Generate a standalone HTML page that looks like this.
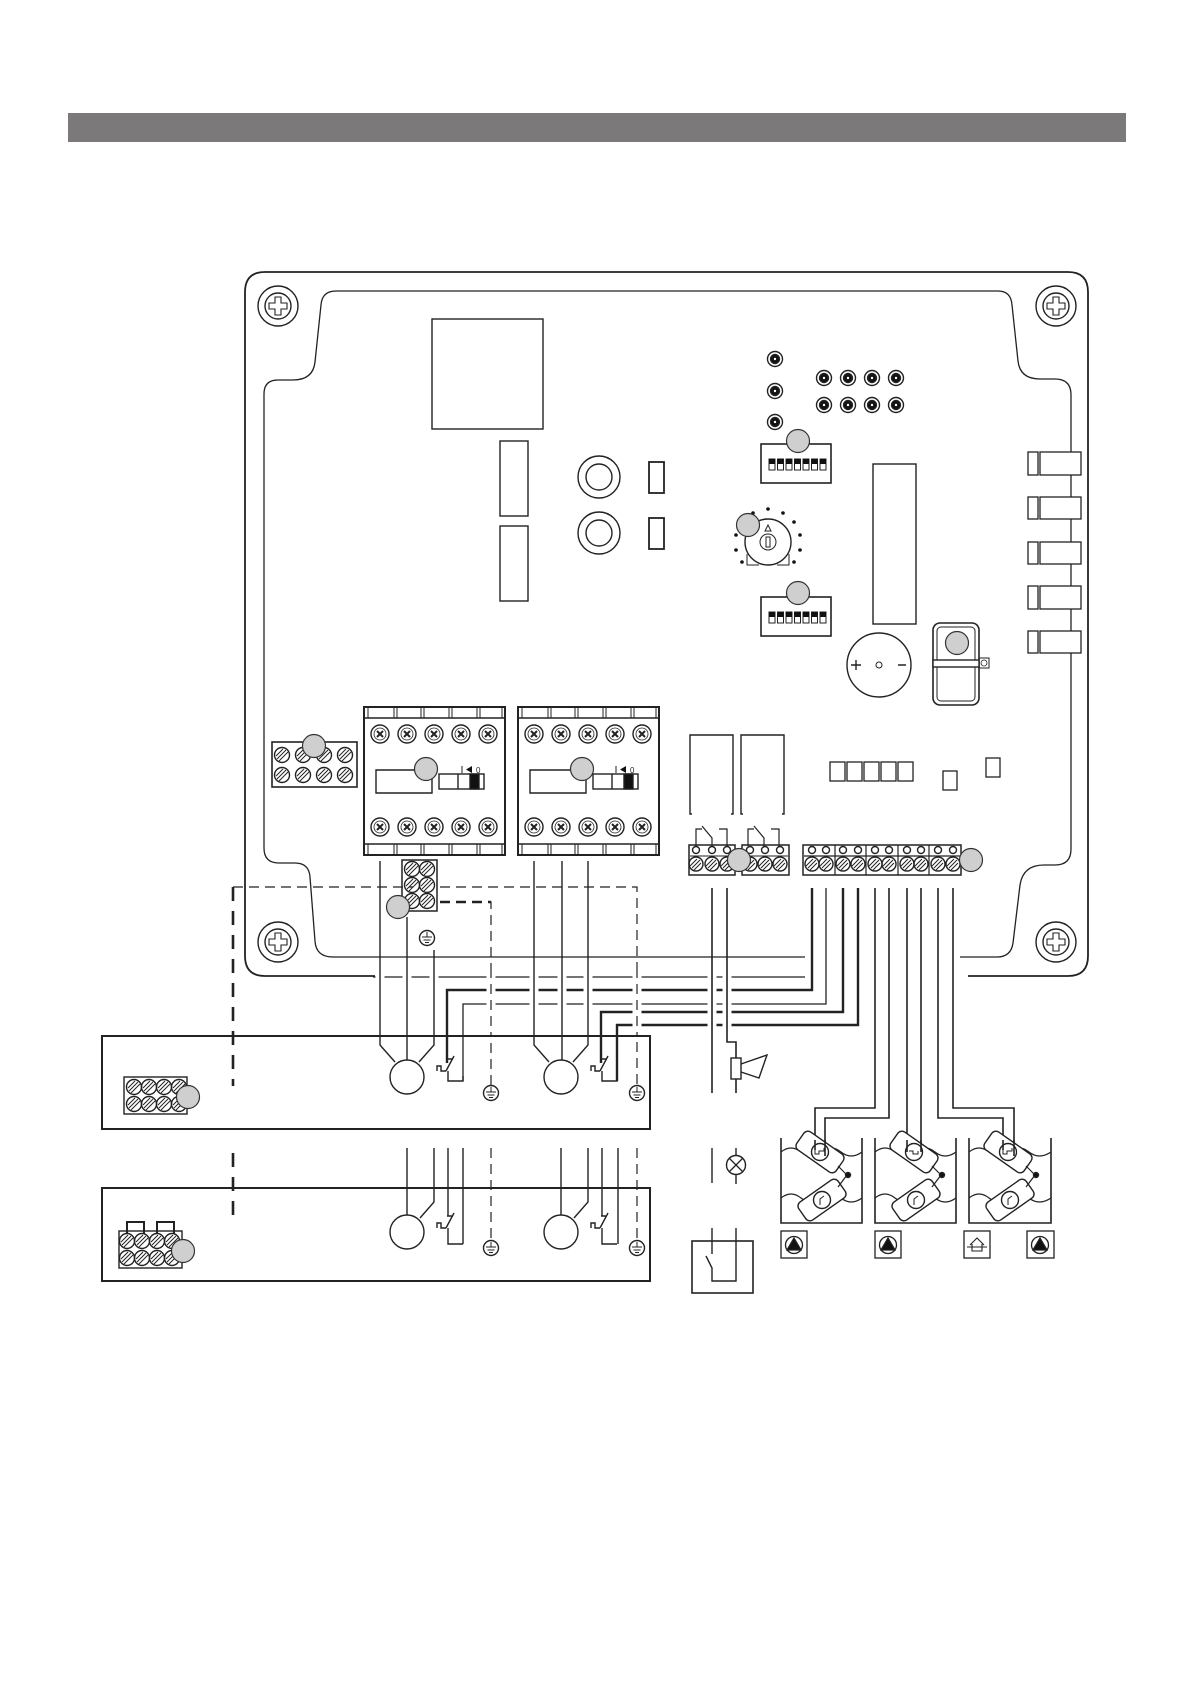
<!DOCTYPE html>
<html><head><meta charset="utf-8"><style>html,body{margin:0;padding:0;background:#fff}svg{display:block}</style></head>
<body>
<svg width="1192" height="1685" viewBox="0 0 1192 1685" xmlns="http://www.w3.org/2000/svg" fill="none" stroke="#222" stroke-width="1.4" font-family="Liberation Sans, sans-serif">
<defs>
<g id="scr"><circle r="20"/><circle r="13"/><path d="M-3,-9h6v6h6v6h-6v6h-6v-6h-6v-6h6z" stroke-width="1.1"/></g>
<g id="xs"><circle r="9"/><circle r="6" stroke-width="0.8"/><path d="M-3,-3l6,6M3,-3l-6,6" stroke-width="2"/></g>
<g id="hs"><circle r="7.5"/><path d="M-5,4l9,-9M-3,6l9,-9M-6,1l7,-7" stroke-width="1"/></g>
<g id="ts"><circle r="7"/><path d="M-4,4l8,-8M-6,2l7,-7M-2,6l7,-7" stroke-width="1"/><circle cy="-14" r="3.5"/></g>
<g id="led"><circle r="7.5"/><circle r="4.5" fill="#111"/><circle r="1.2" fill="#fff" stroke="none"/></g>
<g id="gc"><circle r="11.5" fill="#cfcfcf" stroke="#333" stroke-width="1.2"/></g>
<g id="earth"><circle r="7.5"/><path d="M0,-6v5M-5,-1h10M-3.5,2h7M-2,4.5h4" stroke-width="1"/></g>
<g id="dip"><rect x="0" y="0" width="70" height="39" stroke-width="1.6"/>
<g stroke-width="1"><rect x="8" y="15" width="6" height="11"/><rect x="16.5" y="15" width="6" height="11"/><rect x="25" y="15" width="6" height="11"/><rect x="33.5" y="15" width="6" height="11"/><rect x="42" y="15" width="6" height="11"/><rect x="50.5" y="15" width="6" height="11"/><rect x="59" y="15" width="6" height="11"/></g>
<g fill="#111" stroke="none"><rect x="8" y="15" width="6" height="5"/><rect x="16.5" y="15" width="6" height="5"/><rect x="25" y="15" width="6" height="5"/><rect x="33.5" y="15" width="6" height="5"/><rect x="42" y="15" width="6" height="5"/><rect x="50.5" y="15" width="6" height="5"/><rect x="59" y="15" width="6" height="5"/></g></g>
<g id="cont">
<rect x="0" y="0" width="141" height="148" stroke-width="2"/>
<path d="M0,11h141M0,137h141" stroke-width="1.6"/>
<path d="M4,0v11M30,0v11M33,0v11M57,0v11M60,0v11M85,0v11M88,0v11M113,0v11M116,0v11M138,0v11M4,137v11M30,137v11M33,137v11M57,137v11M60,137v11M85,137v11M88,137v11M113,137v11M116,137v11M138,137v11" stroke-width="1"/>
<use href="#xs" x="16" y="27"/><use href="#xs" x="43" y="27"/><use href="#xs" x="70" y="27"/><use href="#xs" x="97" y="27"/><use href="#xs" x="124" y="27"/>
<use href="#xs" x="16" y="120"/><use href="#xs" x="43" y="120"/><use href="#xs" x="70" y="120"/><use href="#xs" x="97" y="120"/><use href="#xs" x="124" y="120"/>
<path d="M12,63h56v23h-56z"/>
<rect x="75" y="67" width="45" height="15"/><path d="M94,67v15"/><rect x="106" y="67" width="9" height="15" fill="#111"/>
<path d="M98,59v7" stroke-width="1"/><path d="M102,62.5l6,-3.5v7z" fill="#111" stroke="none"/>
<text x="112" y="66" font-size="8" fill="#222" stroke="none">0</text>
</g>
</defs>

<rect x="68" y="113" width="1058" height="29" fill="#7b7979" stroke="none"/>

<path d="M264,272H1068q20,0 20,20V956q0,20 -20,20H968M375,976H265q-20,0 -20,-20V292q0,-20 20,-20" stroke-width="1.8"/>
<use href="#scr" x="278" y="306"/><use href="#scr" x="1056" y="306"/><use href="#scr" x="278" y="942"/><use href="#scr" x="1056" y="942"/>

<path d="M998,291H336q-14,0 -15,14L315,362q-2,18 -22,18H278q-14,0 -14,14V848q0,15 15,15H295q14,0 15,14L315,941q1,16 18,16H805M960,957H997q14,0 16,-14L1020,885q3,-20 24,-20H1055q16,0 16,-16V395q0,-16 -16,-16H1040q-20,0 -22,-18L1012,305q-1,-14 -14,-14" stroke-width="1.3"/>

<g stroke-width="1.3" fill="#fff">
<rect x="1028" y="452" width="10" height="23"/><rect x="1040" y="452" width="41" height="23"/>
<rect x="1028" y="497" width="10" height="22"/><rect x="1040" y="497" width="41" height="22"/>
<rect x="1028" y="542" width="10" height="22"/><rect x="1040" y="542" width="41" height="22"/>
<rect x="1028" y="586" width="10" height="23"/><rect x="1040" y="586" width="41" height="23"/>
<rect x="1028" y="631" width="10" height="22"/><rect x="1040" y="631" width="41" height="22"/>
</g>

<rect x="432" y="319" width="111" height="110"/>
<rect x="500" y="441" width="28" height="75"/><rect x="500" y="526" width="28" height="75"/>
<circle cx="599" cy="477" r="21"/><circle cx="599" cy="477" r="13"/>
<circle cx="599" cy="533" r="21"/><circle cx="599" cy="533" r="13"/>
<rect x="649" y="462" width="15" height="31" stroke-width="1.8"/><rect x="649" y="518" width="15" height="31" stroke-width="1.8"/>
<use href="#led" x="775" y="359"/><use href="#led" x="775" y="391"/><use href="#led" x="775" y="422"/>
<use href="#led" x="824" y="378"/><use href="#led" x="848" y="378"/><use href="#led" x="872" y="378"/><use href="#led" x="896" y="378"/>
<use href="#led" x="824" y="405"/><use href="#led" x="848" y="405"/><use href="#led" x="872" y="405"/><use href="#led" x="896" y="405"/>
<use href="#dip" x="761" y="444"/><use href="#gc" x="798" y="441"/>
<circle cx="768" cy="542" r="23"/><circle cx="768" cy="542" r="8" stroke-width="1"/><rect x="766" y="537" width="4" height="10" stroke-width="1"/>
<path d="M765,531l3,-6l3,6z" stroke-width="1"/>
<path d="M747,554v11h12M777,565h12v-11" stroke-width="1"/>
<g fill="#111" stroke="none"><circle cx="768" cy="509" r="1.8"/><circle cx="783" cy="513" r="1.8"/><circle cx="794" cy="522" r="1.8"/><circle cx="800" cy="535" r="1.8"/><circle cx="800" cy="550" r="1.8"/><circle cx="794" cy="562" r="1.8"/><circle cx="736" cy="535" r="1.8"/><circle cx="736" cy="550" r="1.8"/><circle cx="742" cy="562" r="1.8"/><circle cx="753" cy="513" r="1.8"/></g>
<use href="#gc" x="748" y="525"/>
<use href="#dip" x="761" y="597"/><use href="#gc" x="798" y="593"/>
<rect x="873" y="464" width="43" height="160"/>
<circle cx="879" cy="665" r="32"/><path d="M851,665h10M856,660v10M898,665h8"/><circle cx="879" cy="665" r="3" stroke-width="1"/>
<rect x="933" y="623" width="46" height="82" rx="7" stroke-width="1.6"/><rect x="937" y="627" width="38" height="74" rx="4" stroke-width="1"/>
<rect x="933" y="660" width="46" height="7" fill="#fff"/><use href="#gc" x="957" y="643"/>
<rect x="979" y="658" width="10" height="10" stroke-width="1"/><circle cx="984" cy="663" r="3" stroke-width="0.8"/>

<rect x="272" y="742" width="85" height="45" stroke-width="1.6"/>
<use href="#hs" x="282" y="755"/><use href="#hs" x="303" y="755"/><use href="#hs" x="324" y="755"/><use href="#hs" x="345" y="755"/>
<use href="#hs" x="282" y="775"/><use href="#hs" x="303" y="775"/><use href="#hs" x="324" y="775"/><use href="#hs" x="345" y="775"/>
<use href="#gc" x="314" y="746"/>

<use href="#cont" x="364" y="707"/><use href="#gc" x="426" y="769"/>
<use href="#cont" x="518" y="707"/><use href="#gc" x="582" y="769"/>

<path d="M692,814h-2V735h43v79h-2M743,814h-2V735h43v79h-2" stroke-width="1.4"/>
<path d="M696,846V829h6M702,826l10,12v8M719,829h8v17M748,846V829h6M754,826l10,12v8M771,829h8v17" stroke-width="1.2"/>
<rect x="689" y="845" width="46" height="30" stroke-width="1.5"/><rect x="742" y="845" width="47" height="30" stroke-width="1.5"/>
<path d="M690,856h44M743,856h45" stroke-width="1"/>
<use href="#ts" x="696" y="864"/><use href="#ts" x="712" y="864"/><use href="#ts" x="727" y="864"/>
<use href="#ts" x="750" y="864"/><use href="#ts" x="765" y="864"/><use href="#ts" x="780" y="864"/>
<use href="#gc" x="739" y="860"/>

<rect x="803" y="845" width="158" height="30" stroke-width="1.5"/>
<path d="M835,845v30M866,845v30M898,845v30M929,845v30M804,856h156" stroke-width="1.2"/>
<use href="#ts" x="812" y="864"/><use href="#ts" x="826" y="864"/><use href="#ts" x="843" y="864"/><use href="#ts" x="858" y="864"/><use href="#ts" x="875" y="864"/><use href="#ts" x="889" y="864"/><use href="#ts" x="907" y="864"/><use href="#ts" x="921" y="864"/><use href="#ts" x="938" y="864"/><use href="#ts" x="953" y="864"/>
<use href="#gc" x="971" y="860"/>
<g stroke-width="1.3"><rect x="830" y="762" width="15" height="19"/><rect x="847" y="762" width="15" height="19"/><rect x="864" y="762" width="15" height="19"/><rect x="881" y="762" width="15" height="19"/><rect x="898" y="762" width="15" height="19"/>
<rect x="943" y="771" width="14" height="19"/><rect x="986" y="758" width="14" height="19"/></g>

<rect x="402" y="860" width="35" height="51" stroke-width="1.5"/>
<use href="#hs" x="412" y="869"/><use href="#hs" x="427" y="869"/><use href="#hs" x="412" y="885"/><use href="#hs" x="427" y="885"/><use href="#hs" x="412" y="901"/><use href="#hs" x="427" y="901"/>
<use href="#gc" x="398" y="907"/>
<use href="#earth" x="427" y="938"/>

<g>
<path d="M373,977H805" stroke-width="1.2"/>
<path d="M447,1063V990H812V888" stroke-width="2.4"/>
<path d="M463,1081V1004H826V888" stroke-width="1.3"/>
<path d="M601,1063V1012H843V888" stroke-width="2.4"/>
<path d="M617,1081V1025H858V888" stroke-width="2.4"/>
</g>
<path d="M233,887H413M440,887H637V1086" stroke-dasharray="10,6" stroke-width="1.2"/>
<path d="M440,902H491V1086" stroke-dasharray="10,6" stroke-width="1.2"/>
<path d="M440,902H491" stroke-dasharray="10,6" stroke-width="2.6"/>
<path d="M233,887V1086M233,1153V1225" stroke-dasharray="14,10" stroke-width="2.6"/>

<g stroke="#fff" stroke-width="9">
<path d="M380,968V1032M407,968V1032M434,968V1032M534,968V1032M562,968V1032M588,968V1032M491,968V1032M637,968V1032M712,968V1032M727,968V1032"/>
</g>
<path d="M380,861V1045L395,1062M407,917V1060M434,950V1045L419,1062M534,861V1045L549,1062M562,861V1060M588,861V1045L573,1062" stroke-width="1.4"/>
<path d="M491,968V1032M637,968V1032" stroke-dasharray="10,6" stroke-width="1.2"/>
<path d="M712,888V1093M727,888V1042H736V1058M736,1079V1093" stroke-width="1.6"/>

<rect x="731" y="1058" width="10" height="21" stroke-width="1.4"/><path d="M741,1064L767,1055L759,1078L741,1072" stroke-width="1.4"/>

<!-- motor box 1 -->
<rect x="102" y="1036" width="548" height="93" stroke-width="2"/>
<rect x="124" y="1077" width="63" height="37" stroke-width="1.4"/>
<use href="#hs" x="134" y="1087"/><use href="#hs" x="149" y="1087"/><use href="#hs" x="164" y="1087"/><use href="#hs" x="179" y="1087"/>
<use href="#hs" x="134" y="1104"/><use href="#hs" x="149" y="1104"/><use href="#hs" x="164" y="1104"/><use href="#hs" x="179" y="1104"/>
<use href="#gc" x="188" y="1097"/>
<circle cx="407" cy="1077" r="17"/><circle cx="561" cy="1077" r="17"/>
<path d="M447,1059h6M454,1056l-8,15M448,1071v10h15V1076M437,1071v-5h4v5h5" stroke-width="1.4"/>
<path d="M601,1059h6M608,1056l-8,15M602,1071v10h15V1076M591,1071v-5h4v5h5" stroke-width="1.4"/>
<use href="#earth" x="491" y="1093"/><use href="#earth" x="637" y="1093"/>

<path d="M407,1148V1215M434,1148V1202L420,1218M448,1148V1216M463,1148V1244M561,1148V1215M588,1148V1202L574,1218M602,1148V1216M618,1148V1244" stroke-width="1.4"/>
<path d="M491,1148V1240M637,1148V1240" stroke-dasharray="10,6" stroke-width="1.2"/>

<!-- motor box 2 -->
<rect x="102" y="1188" width="548" height="93" stroke-width="2"/>
<rect x="119" y="1231" width="63" height="37" stroke-width="1.4"/>
<path d="M127,1234v-12h17v12M157,1234v-12h17v12" stroke-width="2"/>
<use href="#hs" x="127" y="1241"/><use href="#hs" x="142" y="1241"/><use href="#hs" x="157" y="1241"/><use href="#hs" x="172" y="1241"/>
<use href="#hs" x="127" y="1258"/><use href="#hs" x="142" y="1258"/><use href="#hs" x="157" y="1258"/><use href="#hs" x="172" y="1258"/>
<use href="#gc" x="183" y="1251"/>
<circle cx="407" cy="1232" r="17"/><circle cx="561" cy="1232" r="17"/>
<path d="M447,1216h6M454,1213l-8,15M448,1228v16h15M437,1228v-5h4v5h5" stroke-width="1.4"/>
<path d="M601,1216h6M608,1213l-8,15M602,1228v16h15M591,1228v-5h4v5h5" stroke-width="1.4"/>
<use href="#earth" x="491" y="1248"/><use href="#earth" x="637" y="1248"/>

<path d="M712,1148V1183M736,1148V1156M736,1174V1184" stroke-width="1.4"/>
<circle cx="736" cy="1165" r="9.5" stroke-width="1.4"/><path d="M729,1158l14,14M743,1158l-14,14" stroke-width="1.3"/>
<rect x="692" y="1241" width="61" height="52" stroke-width="1.6"/>
<path d="M712,1228V1254M706,1256l6,12V1281H736V1228" stroke-width="1.4"/>

<path d="M875,888V1108H815V1148M889,888V1118H825V1148M907,888V1150M921,888V1150M938,888V1118H1003V1148M953,888V1108H1014V1148" stroke-width="1.6"/>

<g stroke-width="1.6">
<path d="M781,1138V1223H862V1138M875,1138V1223H956V1138M969,1138V1223H1051V1138"/>
</g>
<g stroke-width="1.2">
<path d="M781,1152q10,-8 20,0t20,0t20,0t21,0M875,1152q10,-8 20,0t20,0t20,0t21,0M969,1152q10,-8 20,0t20,0t20,0t22,0"/>
<path d="M781,1198q10,-8 20,0t20,0t20,0t21,0M875,1198q10,-8 20,0t20,0t20,0t21,0M969,1198q10,-8 20,0t20,0t20,0t22,0"/>
</g>
<g stroke-width="1.4">
<g transform="translate(820,1152)"><g transform="rotate(35)"><rect x="-24" y="-11" width="48" height="22" rx="5" fill="#fff"/></g><circle r="8.5"/><path d="M-5,-4v6h4v-3h5v-3" stroke-width="1"/></g>
<g transform="translate(822,1200)"><g transform="rotate(-35)"><rect x="-24" y="-11" width="48" height="22" rx="5" fill="#fff"/></g><circle r="8.5"/><path d="M-2,5v-6l4,-3" stroke-width="1"/></g>
<path d="M838,1166l9,9l-9,12" stroke-width="1.2"/><circle cx="848" cy="1175" r="2.5" fill="#111"/>
<g transform="translate(914,1152)"><g transform="rotate(35)"><rect x="-24" y="-11" width="48" height="22" rx="5" fill="#fff"/></g><circle r="8.5"/><path d="M-5,-1h4v3h5v-3" stroke-width="1"/></g>
<g transform="translate(916,1200)"><g transform="rotate(-35)"><rect x="-24" y="-11" width="48" height="22" rx="5" fill="#fff"/></g><circle r="8.5"/><path d="M-2,5v-6l4,-3" stroke-width="1"/></g>
<path d="M932,1166l9,9l-9,12" stroke-width="1.2"/><circle cx="942" cy="1175" r="2.5" fill="#111"/>
<g transform="translate(1008,1152)"><g transform="rotate(35)"><rect x="-24" y="-11" width="48" height="22" rx="5" fill="#fff"/></g><circle r="8.5"/><path d="M-5,-4v6h4v-3h5v-3" stroke-width="1"/></g>
<g transform="translate(1010,1200)"><g transform="rotate(-35)"><rect x="-24" y="-11" width="48" height="22" rx="5" fill="#fff"/></g><circle r="8.5"/><path d="M-2,5v-6l4,-3" stroke-width="1"/></g>
<path d="M1026,1166l9,9l-9,12" stroke-width="1.2"/><circle cx="1036" cy="1175" r="2.5" fill="#111"/>
</g>
<path d="M815,1140V1150M825,1140V1156M907,1140V1152M921,1140V1152M1003,1140V1150M1014,1140V1156" stroke-width="1.6"/>

<g stroke-width="1.3">
<rect x="781" y="1231" width="26" height="27"/><circle cx="794" cy="1245" r="8.5"/><path d="M787,1250l7,-12l7,12z" fill="#111"/>
<rect x="875" y="1231" width="26" height="27"/><circle cx="888" cy="1245" r="8.5"/><path d="M881,1250l7,-12l7,12z" fill="#111"/>
<rect x="964" y="1231" width="26" height="27"/><path d="M970,1245l7,-7l7,7M972,1244v7h10v-7M967,1247h20" stroke-width="1.1"/>
<rect x="1027" y="1231" width="27" height="27"/><circle cx="1040" cy="1245" r="8.5"/><path d="M1033,1250l7,-12l7,12z" fill="#111"/>
</g>
</svg>
</body></html>
